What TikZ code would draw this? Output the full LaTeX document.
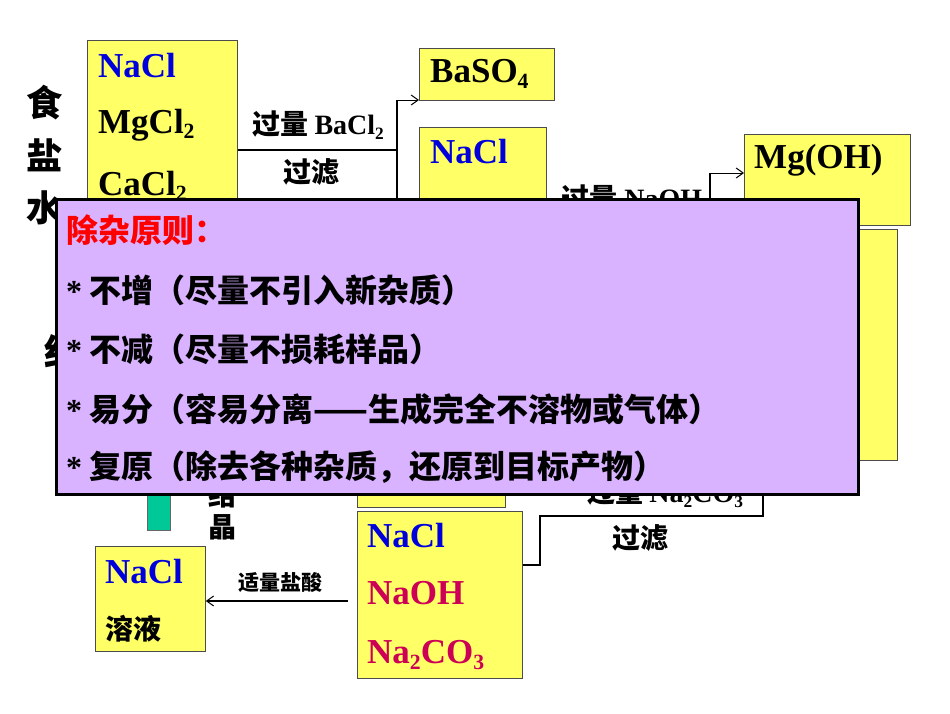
\documentclass[tikz,border=0pt]{standalone}
\usepackage{fontspec}
\usetikzlibrary{arrows.meta}
\setmainfont{Liberation Serif}
\newfontfamily\cjk{Noto Sans CJK SC}
\newcommand{\sbs}[1]{\raisebox{-0.35ex}{\scalebox{0.62}{#1}}}
\definecolor{yel}{HTML}{FFFF66}
\definecolor{lav}{HTML}{D9B3FF}
\definecolor{nblue}{HTML}{0000DD}
\definecolor{nmag}{HTML}{CC0055}
\definecolor{grn}{HTML}{00C896}
\begin{document}
\begin{tikzpicture}[x=1pt,y=-1pt,
  ybox/.style={draw=black!70,fill=yel,line width=0.8pt},
  chem/.style={anchor=west,font=\fontsize{35}{35}\selectfont\bfseries,inner sep=0},
  cj/.style={font=\fontsize{28}{28}\selectfont\cjk\bfseries,inner sep=0},
  ov/.style={anchor=west,inner sep=0,font=\fontsize{32}{32}\selectfont\cjk\bfseries},
  ln/.style={line width=2pt},
  opn/.style={-{Straight Barb[length=7pt,width=10pt,line width=1pt]}}]
\useasboundingbox (0,0) rectangle (950,713);
% left vertical text
\node[cj,font=\fontsize{36}{36}\selectfont\cjk\bfseries] (s1) at (45,103) {食};
\node[cj,font=\fontsize{36}{36}\selectfont\cjk\bfseries] (s2) at (45,155) {盐};
\node[cj,font=\fontsize{36}{36}\selectfont\cjk\bfseries] (s3) at (45,208) {水};
\node[cj,font=\fontsize{36}{36}\selectfont\cjk\bfseries] (s4) at (62,352) {结};
% box1
\node[ybox,minimum width=150,minimum height=230,anchor=north west] (b1) at (87,40) {};
\node[chem,text=nblue] (t11) at (98,66) {NaCl};
\node[chem] (t12) at (98,125) {MgCl\sbs{2}};
\node[chem] (t13) at (98,186) {CaCl\sbs{2}};
% BaSO4
\node[ybox,minimum width=135,minimum height=52,anchor=north west] (b2) at (419,48) {};
\node[chem] (t2) at (430,74) {BaSO\sbs{4}};
% box NaCl 2
\node[ybox,minimum width=127,minimum height=120,anchor=north west] (b3) at (419,127) {};
\node[chem,text=nblue] (t3) at (430,152) {NaCl};
% Mg(OH)
\node[ybox,minimum width=166,minimum height=91,anchor=north west] (b4) at (744,134) {};
\node[chem] (t4) at (754,160) {Mg(OH)};
\node[ybox,minimum width=177,minimum height=231,anchor=north west] (b5) at (720,229) {};
% connectors 1
\coordinate (j1) at (397,150);
\coordinate (j1t) at (397,100);
\coordinate (j1b) at (397,230);
\draw[ln] (b1.east|-j1) -- (j1);
\draw[ln] (j1t) -- (j1b);
\draw[opn,line width=1pt] (j1t) -- (b2.west|-j1t);
\node[cj] (l1) at (318,125) {过量 {\rmfamily\bfseries BaCl\sbs{2}}};
\node[cj] (l2) at (311,172) {过滤};
% connectors 2
\coordinate (j2) at (710,205);
\coordinate (j2t) at (710,173);
\draw[ln] (b3.east|-j2) -- (j2);
\draw[ln] (j2t) -- (710,240);
\draw[opn,line width=1pt] (j2t) -- (b4.west|-j2t);
\node[cj] (l3) at (632,198) {过量 {\rmfamily\bfseries NaOH}};
% lower hidden box
\node[ybox,minimum width=148,minimum height=90,anchor=north west] (b6) at (357,417) {};
\node[chem,anchor=east] (t6) at (488,474) {BaCO\sbs{3}};
% connectors 3
\coordinate (k1) at (540,565);
\coordinate (k2) at (540,516);
\coordinate (k3) at (763,516);
\coordinate (k4) at (763,440);
\node[cj] (l4) at (665,493) {过量 {\rmfamily\bfseries Na\sbs{2}CO\sbs{3}}};
\node[cj] (l5) at (640,538) {过滤};
% green bar and 结晶
\node[fill=grn,draw=black!60,minimum width=23,minimum height=50,anchor=north west,inner sep=0] (g) at (147,480) {};
\node[cj] (c1) at (222,495) {结};
\node[cj] (c2) at (222,527) {晶};
% box NaCl NaOH Na2CO3
\node[ybox,minimum width=165,minimum height=167,anchor=north west] (b7) at (357,511) {};
\node[chem,text=nblue] (t71) at (367,536) {NaCl};
\node[chem,text=nmag] (t72) at (367,593) {NaOH};
\node[chem,text=nmag] (t73) at (367,655) {Na\sbs{2}CO\sbs{3}};
\draw[ln] (b7.east|-k1) -- (k1) -- (k2) -- (k3) -- (k4);
% final box
\node[ybox,minimum width=110,minimum height=105,anchor=north west] (b8) at (95,546) {};
\node[chem,text=nblue] (t81) at (105,572) {NaCl};
\node[cj,anchor=west] (t82) at (105,629) {溶液};
\coordinate (a1) at (348,601);
\draw[opn,line width=2pt] (a1) -- (b8.east|-a1);
\node[cj,font=\fontsize{21}{21}\selectfont\cjk\bfseries] (l6) at (280,582) {适量盐酸};
% overlay
\node[draw=black,line width=2.5pt,fill=lav,minimum width=802,minimum height=295,anchor=north west,inner sep=0] (ov) at (55,198) {};
\node[ov,text=red] (o0) at (66,230) {除杂原则：};
\node[ov] (o1) at (66,290) {{\rmfamily *} 不增（尽量不引入新杂质）};
\node[ov] (o2) at (66,349) {{\rmfamily *} 不减（尽量不损耗样品）};
\node[ov] (o3) at (66,409) {{\rmfamily *} 易分（容易分离——生成完全不溶物或气体）};
\node[ov] (o4) at (66,467) {{\rmfamily *} 复原（除去各种杂质，还原到目标产物）};
\end{tikzpicture}
\end{document}
